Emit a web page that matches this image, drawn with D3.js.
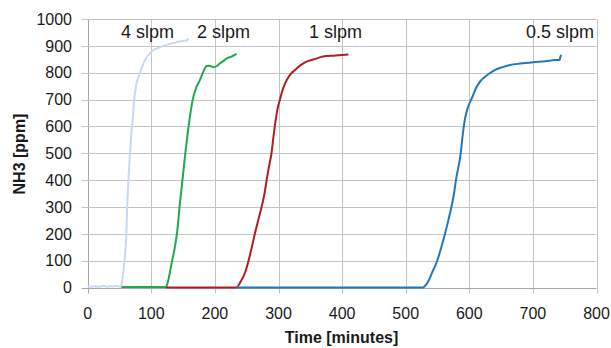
<!DOCTYPE html>
<html>
<head>
<meta charset="utf-8">
<script src="https://cdn.jsdelivr.net/npm/d3@7"></script>
<style>
  body { margin: 0; background: #fff; }
  text { font-family: "Liberation Sans", Arial, sans-serif; fill: #1a1a1a; }
</style>
</head>
<body>
<svg id="chart"></svg>
<script>
// data: [minutes, ppm]
var slpm4 = [[0,4],[5,3],[10,5],[15,3],[20,4],[25,6],[30,3],[35,5],[40,4],[45,6],[50,4],[52.5,3],[55,40],[57.5,91],[61,214],[62.3,314],[64,400],[66.5,501],[68.5,570],[70.7,624],[73,698],[76,750],[82,799],[90,847],[100,878],[116,897],[137,912],[150,918],[156,920],[158,928]]
var slpm2 = [[53,2],[80,2],[110,2],[123,2],[127,30],[132,91],[137,150],[141,214],[145,314],[149,400],[153.5,501],[157,570],[160,624],[165,698],[170,740],[176.6,773],[182,805],[187,825],[192,826],[197.5,820],[203,825],[208,835],[213,843],[218.5,853],[226,860],[234,870]]
var slpm1 = [[123,0],[160,0],[200,0],[234,0],[240,20],[247,53],[252.5,96],[258,150],[263,202],[268,250],[273.5,301],[278,350],[281.4,400],[285,450],[289,500],[292,560],[295,615],[298.5,665],[302,698],[307,740],[313,773],[319,795],[326,810],[335,828],[344,841],[356,850],[370,860],[390,864],[410,868]]
var slpm05 = [[234,0],[300,0],[400,0],[500,0],[527,0],[530,5],[536,25],[541,53],[549,96],[556,150],[562,202],[567,250],[572,301],[576,350],[579,400],[583,450],[586.5,500],[589.5,565],[593,625],[597,665],[604,705],[611.6,748],[618,770],[624.7,785],[632,798],[640,810],[651,820],[664,829],[680,834],[700.6,839],[720,843],[734.7,847],[742,847],[743,858],[745,866]]

var seriesNames = ["4 slpm", "2 slpm", "1 slpm", "0.5 slpm"]
var seriesData = [slpm4, slpm2, slpm1, slpm05]
var seriesColors = ["#c9d8f0", "#1fa84f", "#b21d22", "#1f78bd"]
// label anchors in data units (minutes at text start)
var labelStart = [52.5, 172, 348, 689]
var labelValue = 929

var xTicks = [0,100,200,300,400,500,600,700,800]
var yTicks = [0,100,200,300,400,500,600,700,800,900,1000]

var dimensions = {
    width: 611,
    height: 348,
    margin: { top: 19, bottom: 60.5, left: 87.7, right: 14.5 }
}

var svg = d3.select("#chart")
    .attr("width", dimensions.width)
    .attr("height", dimensions.height)

var xScale = d3.scaleLinear()
    .domain([0, 800])
    .range([dimensions.margin.left, dimensions.width - dimensions.margin.right])

var yScale = d3.scaleLinear()
    .domain([0, 1000])
    .range([dimensions.height - dimensions.margin.bottom, dimensions.margin.top])

var grid = svg.append("g")

// vertical grid lines, running a bit past the x axis as tick marks
grid.selectAll("line.v")
    .data(xTicks)
    .enter()
    .append("line")
    .attr("x1", d => Math.round(xScale(d)) + 0.5)
    .attr("x2", d => Math.round(xScale(d)) + 0.5)
    .attr("y1", yScale(1000))
    .attr("y2", yScale(0) + 6)
    .attr("stroke", d => d == 0 ? "#a6a6a6" : "#c4c4c4")
    .attr("stroke-width", 1)

// horizontal grid lines, running a bit left of the y axis as tick marks
grid.selectAll("line.h")
    .data(yTicks)
    .enter()
    .append("line")
    .attr("x1", xScale(0) - 6)
    .attr("x2", xScale(800))
    .attr("y1", d => Math.round(yScale(d)) + 0.5)
    .attr("y2", d => Math.round(yScale(d)) + 0.5)
    .attr("stroke", d => d == 0 ? "#a6a6a6" : "#c4c4c4")
    .attr("stroke-width", 1)

var line = d3.line()
    .curve(d3.curveMonotoneX)
    .x(d => xScale(d[0]))
    .y(d => yScale(d[1]))

svg.append("g")
    .selectAll("path")
    .data(seriesData)
    .enter()
    .append("path")
    .attr("d", line)
    .attr("fill", "none")
    .attr("stroke", (d, i) => seriesColors[i])
    .attr("stroke-width", 2)
    .attr("stroke-linejoin", "round")

// tick labels
svg.append("g")
    .selectAll("text")
    .data(xTicks)
    .enter()
    .append("text")
    .attr("x", d => xScale(d))
    .attr("y", 319)
    .attr("text-anchor", "middle")
    .style("font-size", "16px")
    .text(d => d)

svg.append("g")
    .selectAll("text")
    .data(yTicks)
    .enter()
    .append("text")
    .attr("x", 72)
    .attr("y", d => yScale(d))
    .attr("dy", "0.36em")
    .attr("text-anchor", "end")
    .style("font-size", "16px")
    .text(d => d)

// series labels
svg.append("g")
    .selectAll("text")
    .data(seriesNames)
    .enter()
    .append("text")
    .attr("x", (d, i) => xScale(labelStart[i]))
    .attr("y", yScale(labelValue))
    .style("font-size", "18px")
    .text(d => d)

// axis titles
svg.append("text")
    .attr("x", 341.5)
    .attr("y", 343)
    .attr("text-anchor", "middle")
    .style("font-size", "16px")
    .style("font-weight", "bold")
    .text("Time [minutes]")

svg.append("text")
    .attr("transform", "translate(25,154) rotate(-90)")
    .attr("text-anchor", "middle")
    .style("font-size", "16px")
    .style("font-weight", "bold")
    .text("NH3 [ppm]")
</script>
</body>
</html>
